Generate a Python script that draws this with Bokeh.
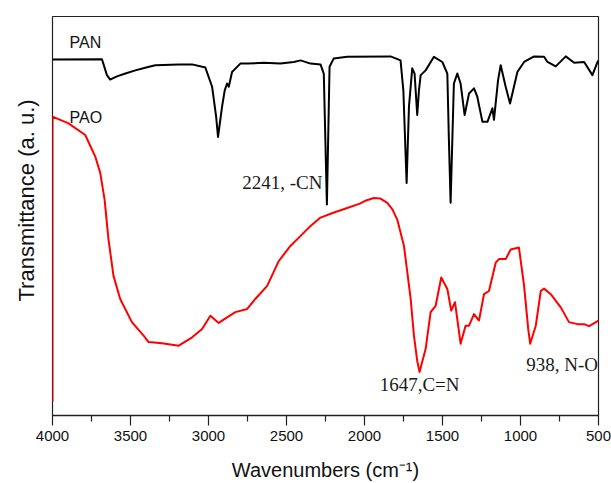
from bokeh.plotting import figure
from bokeh.models import Range1d, Label, FixedTicker, Title
from bokeh.embed import file_html
from bokeh.resources import INLINE

# FTIR spectra: wavenumber (cm^-1) and transmittance (arbitrary units, offset traces)
pan_wn = [4000, 3683, 3651, 3630, 3587, 3533, 3469, 3400, 3341, 3191, 3105, 3020, 2977,
          2951, 2939, 2913, 2896, 2881, 2870, 2849, 2796, 2752, 2646, 2539, 2453,
          2410, 2346, 2282, 2261, 2241, 2224, 2197, 2111, 1833, 1769, 1751, 1730,
          1715, 1694, 1679, 1662, 1651, 1640, 1608, 1555, 1501, 1469, 1459, 1448,
          1437, 1427, 1405, 1384, 1358, 1330, 1298, 1277, 1244, 1212, 1180, 1170,
          1144, 1127, 1095, 1067, 1042, 1020, 977, 913, 849, 827, 774, 710, 656,
          592, 539, 506, 500]
pan_t = [89.2, 89.3, 85.3, 84.2, 85.0, 85.7, 86.5, 87.2, 87.8, 88.0, 88.0, 87.2, 82.4,
         74.9, 69.8, 77.4, 81.5, 83.2, 82.4, 86.1, 88.2, 88.2, 88.4, 88.2, 88.6,
         89.0, 88.2, 88.0, 85.7, 52.9, 87.4, 89.5, 89.9, 90.0, 89.0, 81.5, 58.3,
         77.4, 87.0, 85.7, 75.3, 81.5, 85.3, 86.5, 89.9, 88.6, 85.7, 69.1, 53.3,
         69.1, 83.2, 85.7, 83.2, 75.3, 80.7, 82.0, 79.9, 73.6, 73.6, 77.0, 74.1,
         84.0, 87.8, 82.4, 78.2, 82.4, 86.1, 88.6, 90.0, 89.9, 88.6, 87.5, 90.0,
         88.4, 88.6, 85.3, 88.6, 89.0]

pao_wn = [4000, 4000, 3897, 3790, 3726, 3694, 3666, 3641, 3609, 3566, 3491, 3416,
          3384, 3298, 3191, 3105, 3041, 2988, 2935, 2881, 2828, 2752, 2700, 2624,
          2550, 2475, 2400, 2346, 2282, 2200, 2111, 2030, 1990, 1940, 1900, 1854,
          1820, 1790, 1747, 1704, 1683, 1662, 1647, 1608,
          1576, 1544, 1508, 1469, 1444, 1420, 1384, 1352, 1330, 1298, 1266, 1234,
          1202, 1159, 1138, 1095, 1063, 1010, 977, 950, 938, 902, 870, 849, 806,
          742, 689, 635, 592, 560, 500]
pao_t = [3.5, 74.9, 73.2, 70.3, 64.9, 60.8, 54.1, 44.1, 35.0, 29.2, 23.4, 20.0,
         18.4, 18.1, 17.5, 19.6, 21.7, 25.0, 23.2, 24.6, 25.9, 26.7, 29.2, 32.5,
         38.7, 42.5, 45.4, 47.5, 49.6, 50.8, 52.0, 53.1, 53.9, 54.5, 54.4, 53.3,
         51.6, 49.1, 42.5, 29.2, 20.0, 13.7, 10.9, 16.7,
         25.9, 27.5, 34.6, 31.7, 26.3, 28.4, 18.0, 22.5, 22.5, 25.4, 23.8, 30.4,
         31.2, 38.3, 39.2, 39.2, 41.6, 42.1, 32.5, 21.5, 18.0, 22.5, 31.2, 31.8,
         30.4, 27.1, 23.4, 22.9, 22.9, 22.4, 23.8]

x_ticks = [4000, 3500, 3000, 2500, 2000, 1500, 1000, 500]

SANS = "Liberation Sans"
SERIF = "Liberation Serif"

p = figure(width=611, height=483, output_backend="svg", toolbar_location=None,
           x_range=Range1d(4000, 500), y_range=Range1d(0, 100),
           min_border_left=52, min_border_right=13, min_border_top=16,
           min_border_bottom=67)
p.background_fill_color = "white"
p.border_fill_color = "white"
p.outline_line_color = "#222222"
p.outline_line_width = 1.2
p.grid.visible = False
p.yaxis.visible = False

ax = p.xaxis[0]
ax.ticker = FixedTicker(ticks=x_ticks,
                        minor_ticks=[t - 250 for t in x_ticks[:-1]])
ax.major_tick_out = 10
ax.major_tick_in = 0
ax.minor_tick_out = 6
ax.minor_tick_in = 0
ax.axis_line_color = "#222222"
ax.axis_line_width = 1.4
ax.major_tick_line_color = "#222222"
ax.minor_tick_line_color = "#222222"
ax.major_tick_line_width = 1.2
ax.minor_tick_line_width = 1.2
ax.major_label_text_font = SANS
ax.major_label_text_font_size = "15px"
ax.major_label_text_color = "#111111"
ax.major_label_standoff = 5
ax.axis_label = "Wavenumbers (cm\u207b\u00b9)"
ax.axis_label_text_font = SANS
ax.axis_label_text_font_size = "20px"
ax.axis_label_text_font_style = "normal"
ax.axis_label_text_color = "#111111"
ax.axis_label_standoff = 15

p.line(pan_wn, pan_t, line_color="black", line_width=2, line_join="round")
p.line(pao_wn, pao_t, line_color="#ff0000", line_width=2, line_join="round")

# trace names
p.add_layout(Label(x=3891, y=93.4, text="PAN", text_font=SANS,
                   text_font_size="16px", text_color="#111111",
                   text_baseline="alphabetic"))
p.add_layout(Label(x=3891, y=74.6, text="PAO", text_font=SANS,
                   text_font_size="16px", text_color="#111111",
                   text_baseline="alphabetic"))

# band assignments
p.add_layout(Label(x=2270, y=58.3, text="2241, -CN", text_font=SERIF,
                   text_font_size="19px", text_color="#1a1a1a",
                   text_align="right", text_baseline="alphabetic"))
p.add_layout(Label(x=1647, y=7.8, text="1647,C=N", text_font=SERIF,
                   text_font_size="19px", text_color="#1a1a1a",
                   text_align="center", text_baseline="alphabetic"))
p.add_layout(Label(x=503, y=12.8, text="938, N-O", text_font=SERIF,
                   text_font_size="19px", text_color="#1a1a1a",
                   text_align="right", text_baseline="alphabetic"))

# y axis title
p.add_layout(Title(text="Transmittance (a. u.)", text_font=SANS,
                   text_font_size="22px", text_font_style="normal",
                   text_color="#111111", align="left", offset=114,
                   vertical_align="top", standoff=24), "left")

open("out.html", "w").write(file_html(p, INLINE))
